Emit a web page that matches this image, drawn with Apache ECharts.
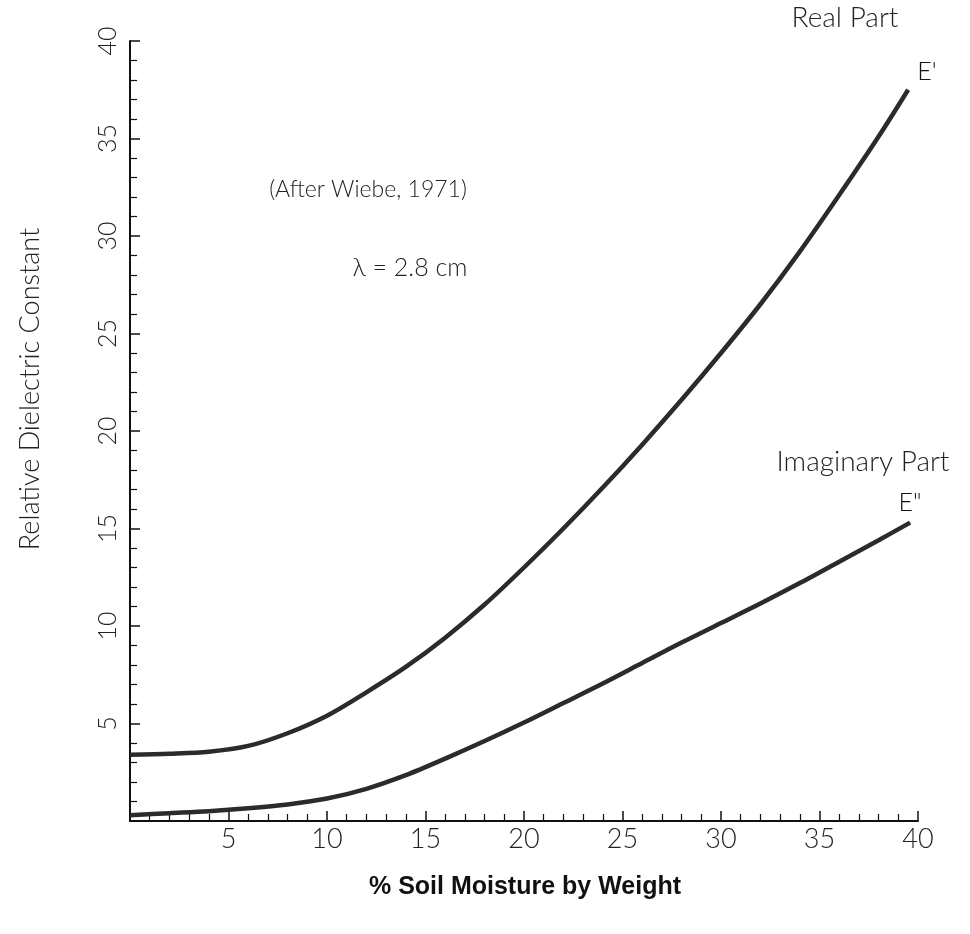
<!DOCTYPE html>
<html>
<head>
<meta charset="utf-8">
<script src="https://cdn.jsdelivr.net/npm/echarts@6/dist/echarts.min.js"></script>
<style>
html,body{margin:0;padding:0;background:#fff;}
#chart{width:970px;height:934px;}
</style>
</head>
<body>
<div id="chart"></div>
<script>
// Soil moisture (% by weight)
var moistureReal = [0, 2, 4, 6, 8, 10, 12, 14, 16, 18, 20, 22, 24, 26, 28, 30, 32, 34, 36, 38, 39.5];
var realPart =     [3.4, 3.45, 3.55, 3.85, 4.5, 5.4, 6.6, 7.9, 9.4, 11.1, 13.0, 15.0, 17.1, 19.3, 21.6, 24.0, 26.5, 29.2, 32.1, 35.1, 37.5];
var moistureImag = [0, 2, 4, 6, 8, 10, 12, 14, 16, 18, 20, 22, 24, 26, 28, 30, 32, 34, 36, 38, 39.6];
var imagPart =     [0.3, 0.4, 0.5, 0.65, 0.85, 1.15, 1.65, 2.35, 3.2, 4.1, 5.05, 6.05, 7.05, 8.1, 9.15, 10.15, 11.15, 12.2, 13.3, 14.4, 15.3];
var xTicks = [5, 10, 15, 20, 25, 30, 35, 40];
var yTicks = [5, 10, 15, 20, 25, 30, 35, 40];

function pairs(xs, ys) { return xs.map(function (x, i) { return [x, ys[i]]; }); }

var FONT = 'Lato';
var chart = echarts.init(document.getElementById('chart'), null, {renderer: 'canvas'});
var lab = function (ticks) { return function (v) { return ticks.indexOf(v) >= 0 ? String(v) : ''; }; };

chart.setOption({
  animation: false,
  backgroundColor: '#ffffff',
  grid: {left: 130, right: 52, top: 41, bottom: 113},
  xAxis: {
    type: 'value', min: 0, max: 40, interval: 5,
    axisLine: {show: true, onZero: false, lineStyle: {color: '#111', width: 2}},
    axisTick: {show: true, inside: true, length: 10, lineStyle: {color: '#111', width: 1.5}},
    minorTick: {show: true, splitNumber: 5, length: 7, lineStyle: {color: '#111', width: 1.2}},
    splitLine: {show: false},
    axisLabel: {formatter: lab(xTicks), fontFamily: FONT, fontWeight: 300, fontSize: 27, color: '#222', margin: 5}
  },
  yAxis: {
    type: 'value', min: 0, max: 40, interval: 5,
    axisLine: {show: true, onZero: false, lineStyle: {color: '#111', width: 2}},
    axisTick: {show: true, inside: true, length: 10, lineStyle: {color: '#111', width: 1.5}},
    minorTick: {show: true, splitNumber: 5, length: 7, lineStyle: {color: '#111', width: 1.2}},
    splitLine: {show: false},
    axisLabel: {formatter: lab(yTicks), rotate: 90, fontFamily: FONT, fontWeight: 300, fontSize: 25, color: '#222', margin: 10}
  },
  series: [
    {name: "E'", type: 'line', data: pairs(moistureReal, realPart), smooth: 0.3, showSymbol: false,
     lineStyle: {color: '#2b2b2b', width: 4.5}},
    {name: 'E"', type: 'line', data: pairs(moistureImag, imagPart), smooth: 0.3, showSymbol: false,
     lineStyle: {color: '#2b2b2b', width: 4.5}}
  ],
  graphic: [
    {type: 'text', x: 30, y: 389, rotation: Math.PI / 2,
     style: {text: 'Relative Dielectric Constant', fontFamily: FONT, fontWeight: 300, fontSize: 27, fill: '#222', align: 'center', verticalAlign: 'middle'}},
    {type: 'text', x: 525, y: 887,
     style: {text: '% Soil Moisture by Weight', fontFamily: 'Liberation Sans', fontWeight: 'bold', fontSize: 25, fill: '#111', align: 'center', verticalAlign: 'middle'}},
    {type: 'text', x: 368, y: 190,
     style: {text: '(After Wiebe, 1971)', fontFamily: FONT, fontWeight: 300, fontSize: 23, fill: '#222', align: 'center', verticalAlign: 'middle'}},
    {type: 'text', x: 410, y: 268,
     style: {text: 'λ = 2.8 cm', fontFamily: FONT, fontWeight: 300, fontSize: 25, fill: '#222', align: 'center', verticalAlign: 'middle'}},
    {type: 'text', x: 845, y: 18,
     style: {text: 'Real Part', fontFamily: FONT, fontWeight: 300, fontSize: 28, fill: '#222', align: 'center', verticalAlign: 'middle'}},
    {type: 'text', x: 927, y: 72,
     style: {text: "E'", fontFamily: FONT, fontWeight: 300, fontSize: 25, fill: '#111', align: 'center', verticalAlign: 'middle'}},
    {type: 'text', x: 863, y: 462,
     style: {text: 'Imaginary Part', fontFamily: FONT, fontWeight: 300, fontSize: 28, fill: '#222', align: 'center', verticalAlign: 'middle'}},
    {type: 'text', x: 910, y: 503,
     style: {text: 'E"', fontFamily: FONT, fontWeight: 300, fontSize: 25, fill: '#111', align: 'center', verticalAlign: 'middle'}}
  ]
});
</script>
</body>
</html>
